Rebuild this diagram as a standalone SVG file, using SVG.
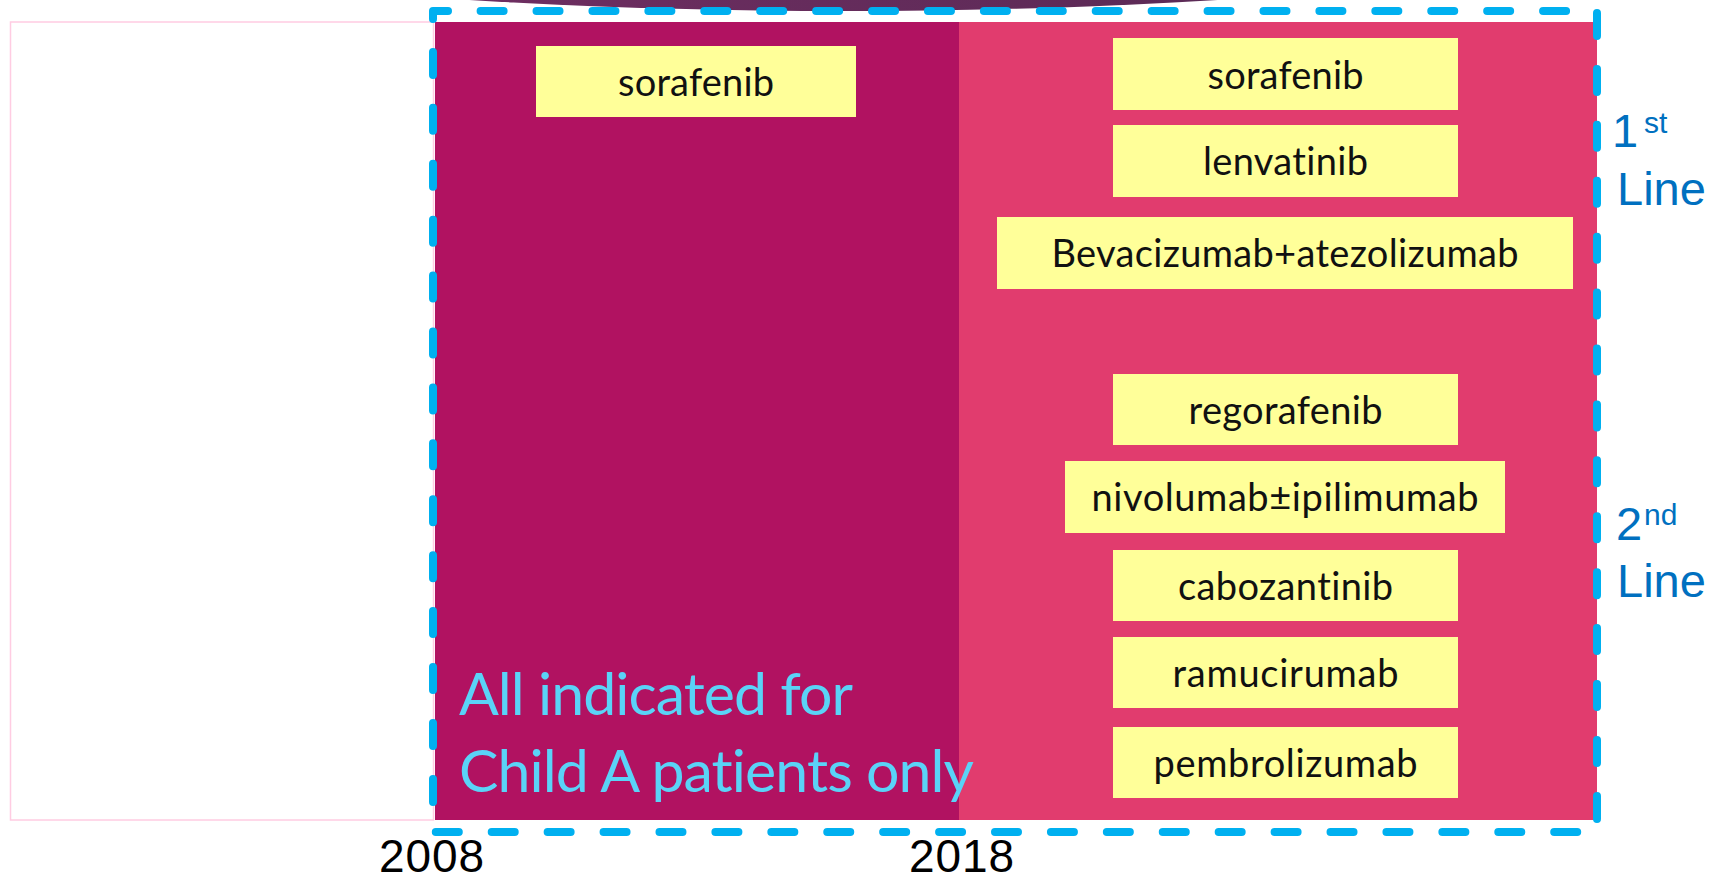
<svg xmlns="http://www.w3.org/2000/svg" width="1725" height="881" viewBox="0 0 1725 881">
  <style>
    .drug { fill: #FFFF99; }
    .lbl { font-family: Lato, "Open Sans", sans-serif; font-size: 38px; fill: #111111; text-anchor: middle; font-variant-ligatures: none; font-feature-settings: "liga" 0, "dlig" 0, "clig" 0; }
    .note { font-family: Lato, "Open Sans", sans-serif; font-size: 59px; fill: #5AD3F7; font-variant-ligatures: none; font-feature-settings: "liga" 0, "dlig" 0, "clig" 0; }
    .year { font-family: "Liberation Sans", Arial, sans-serif; font-size: 46px; fill: #000000; }
    .line { font-family: "Liberation Sans", Arial, sans-serif; font-size: 47px; fill: #0070C0; }
    .sup { font-family: "Liberation Sans", Arial, sans-serif; font-size: 30px; fill: #0070C0; }
  </style>
  <defs>
    <linearGradient id="arcGrad" x1="0" y1="0" x2="1" y2="0">
      <stop offset="0" stop-color="#7A3068"/>
      <stop offset="1" stop-color="#4F284F"/>
    </linearGradient>
  </defs>

  <rect width="1725" height="881" fill="#FFFFFF"/>

  <g id="background">
    <ellipse cx="843.5" cy="-100" rx="862" ry="111" fill="url(#arcGrad)"/>
    <rect x="10.5" y="22" width="423" height="798" fill="none" stroke="#FFCCE2" stroke-width="1.5"/>
    <rect x="435" y="22" width="524" height="798" fill="#B11261"/>
    <rect x="959" y="22" width="638" height="798" fill="#E13C6E"/>
  </g>

  <g id="dashed-frame">
    <path d="M448,11 L433,11 L433,832 L1597,832 L1597,11 Z" fill="none" stroke="#00B0F0" stroke-width="8" stroke-linecap="round" stroke-linejoin="round" stroke-dasharray="23 32.92"/>
  </g>

  <g id="node-sorafenib-2008">
    <rect class="drug" x="536" y="46" width="320" height="71"/>
    <text class="lbl" x="696" y="96" textLength="156">sorafenib</text>
  </g>
  <g id="node-sorafenib-2018">
    <rect class="drug" x="1113" y="38" width="345" height="72"/>
    <text class="lbl" x="1285.5" y="89" textLength="156">sorafenib</text>
  </g>
  <g id="node-lenvatinib">
    <rect class="drug" x="1113" y="125" width="345" height="72"/>
    <text class="lbl" x="1285.5" y="175" textLength="165">lenvatinib</text>
  </g>
  <g id="node-bev-atezo">
    <rect class="drug" x="997" y="217" width="576" height="72"/>
    <text class="lbl" x="1285" y="267" textLength="467">Bevacizumab+atezolizumab</text>
  </g>
  <g id="node-regorafenib">
    <rect class="drug" x="1113" y="374" width="345" height="71"/>
    <text class="lbl" x="1285.5" y="424" textLength="194">regorafenib</text>
  </g>
  <g id="node-nivo-ipi">
    <rect class="drug" x="1065" y="461" width="440" height="72"/>
    <text class="lbl" x="1285" y="511" textLength="387">nivolumab±ipilimumab</text>
  </g>
  <g id="node-cabozantinib">
    <rect class="drug" x="1113" y="550" width="345" height="71"/>
    <text class="lbl" x="1285.5" y="600" textLength="215">cabozantinib</text>
  </g>
  <g id="node-ramucirumab">
    <rect class="drug" x="1113" y="637" width="345" height="71"/>
    <text class="lbl" x="1285.5" y="687" textLength="226">ramucirumab</text>
  </g>
  <g id="node-pembrolizumab">
    <rect class="drug" x="1113" y="727" width="345" height="71"/>
    <text class="lbl" x="1285.5" y="777" textLength="264">pembrolizumab</text>
  </g>

  <g id="note">
    <text class="note" x="459" y="715" textLength="394">All indicated for</text>
    <text class="note" x="459" y="792" textLength="515">Child A patients only</text>
  </g>

  <g id="years">
    <text class="year" x="379" y="872" textLength="105">2008</text>
    <text class="year" x="909" y="872" textLength="105">2018</text>
  </g>

  <g id="line-labels">
    <text class="line" x="1612" y="147">1</text>
    <text class="sup" x="1644" y="133">st</text>
    <text class="line" x="1617" y="205">Line</text>
    <text class="line" x="1616" y="540">2</text>
    <text class="sup" x="1644" y="525">nd</text>
    <text class="line" x="1617" y="597">Line</text>
  </g>
</svg>
